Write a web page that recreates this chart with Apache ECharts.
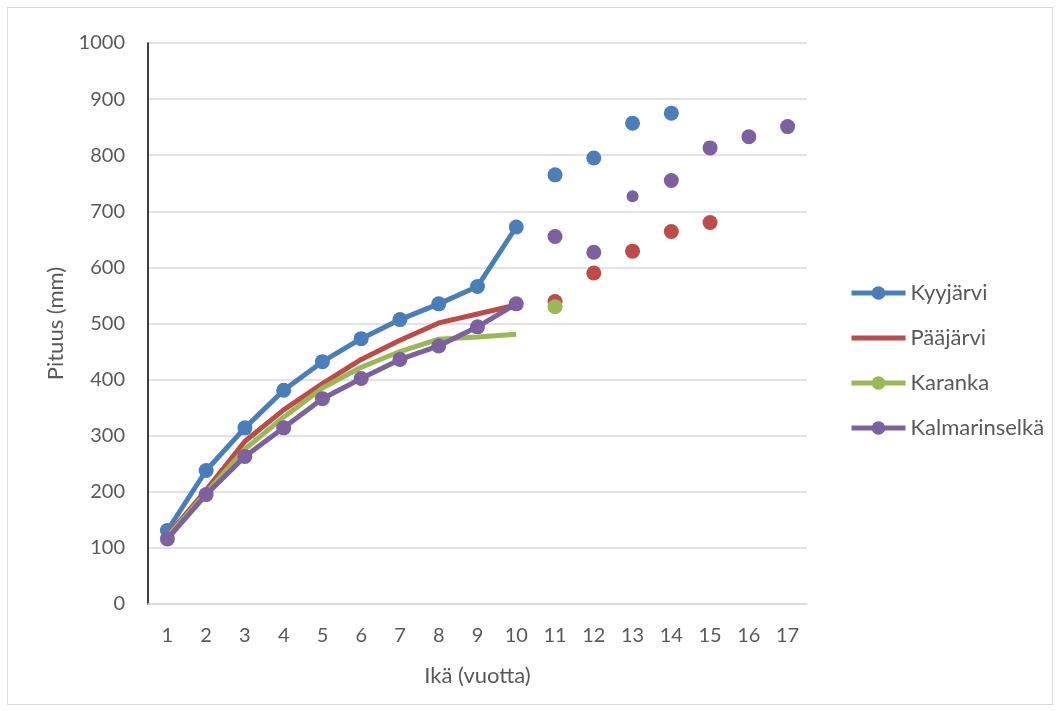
<!DOCTYPE html>
<html>
<head>
<meta charset="utf-8">
<script src="https://cdn.jsdelivr.net/npm/echarts@6/dist/echarts.min.js"></script>
<style>
html,body{margin:0;padding:0;background:#fff;}
#frame{position:absolute;left:7px;top:7px;width:1044px;height:696px;border:1px solid #d9d9d9;}
#chart{position:absolute;left:0;top:0;width:1060px;height:711px;}
</style>
</head>
<body>
<div id="frame"></div>
<div id="chart"></div>
<script>
const ages = ['1','2','3','4','5','6','7','8','9','10','11','12','13','14','15','16','17'];
const seriesNames = ['Kyyjärvi','Pääjärvi','Karanka','Kalmarinselkä'];
const colors = ['#4a7ebb','#be4b48','#98b954','#7d60a0'];
// line part (ages 1-10)
const kyyjarviLine = [131,238,314,381,432,473,507,535,566,672];
const paajarviLine = [122,203,290,346,393,436,470,501,517,533];
const karankaLine = [120,198,276,333,385,422,450,472,476,481];
const kalmarinselkaLine = [116,195,263,314,366,402,436,460,494,535];
// separate points (ages 11-17)
const kyyjarviPoints = [765,795,857,875,null,null,null];
const paajarviPoints = [539,590,629,664,680,null,null];
const karankaPoints = [530,null,null,null,null,null,null];
const kalmarinselkaPoints = [655,627,727,755,813,833,851];
const yTicks = [0,100,200,300,400,500,600,700,800,900,1000];

const fontFam = 'Lato, "Open Sans", sans-serif';
const txt = '#595959';

function pad(line, points){
  const out = [];
  for (let i=0;i<line.length;i++) out.push(line[i]);
  for (let i=0;i<points.length;i++) out.push(null);
  return out;
}
function padPts(line, points, smallIdx){
  const out = [];
  for (let i=0;i<line.length;i++) out.push(null);
  for (let i=0;i<points.length;i++){
    if (points[i]==null) out.push(null);
    else if (smallIdx!=null && i===smallIdx) out.push({value:points[i], symbolSize:12});
    else out.push(points[i]);
  }
  return out;
}

const lineW = 5, symSz = 15;
const series = [];
series.push({name:seriesNames[0], type:'line', data:pad(kyyjarviLine,kyyjarviPoints), symbol:'circle', symbolSize:symSz, showAllSymbol:true,
  lineStyle:{width:lineW,color:colors[0]}, itemStyle:{color:colors[0]}, z:2});
series.push({name:seriesNames[1], type:'line', data:pad(paajarviLine,paajarviPoints), symbol:'none',
  lineStyle:{width:lineW,color:colors[1]}, itemStyle:{color:colors[1]}, z:3});
series.push({name:seriesNames[2], type:'line', symbol:'circle', symbolSize:symSz,
  data:pad(karankaLine,karankaPoints).map(v=>v==null?null:{value:v,symbol:'none'}),
  lineStyle:{width:lineW,color:colors[2]}, itemStyle:{color:colors[2]}, z:4});
series.push({name:seriesNames[3], type:'line', data:pad(kalmarinselkaLine,kalmarinselkaPoints), symbol:'circle', symbolSize:symSz, showAllSymbol:true,
  lineStyle:{width:lineW,color:colors[3]}, itemStyle:{color:colors[3]}, z:5});
const ptsData = [padPts(kyyjarviLine,kyyjarviPoints), padPts(paajarviLine,paajarviPoints), padPts(karankaLine,karankaPoints), padPts(kalmarinselkaLine,kalmarinselkaPoints,2)];
ptsData.forEach((d,i)=>{
  series.push({name:seriesNames[i]+' ', type:'scatter', data:d, symbol:'circle', symbolSize:symSz,
    itemStyle:{color:colors[i], opacity:1}, z:2+i});
});

const chart = echarts.init(document.getElementById('chart'), null, {renderer:'canvas'});
chart.setOption({
  animation:false,
  backgroundColor:'transparent',
  textStyle:{fontFamily:fontFam},
  grid:{left:148, right:253, top:43, bottom:107, containLabel:false},
  legend:{
    data:[
      {name:seriesNames[0]},
      {name:seriesNames[1], itemStyle:{opacity:0}},
      {name:seriesNames[2]},
      {name:seriesNames[3]}
    ],
    orient:'vertical', left:844, top:277,
    itemWidth:54, itemHeight:17, itemGap:23,
    lineStyle:{width:5},
    textStyle:{color:txt, fontSize:22, fontFamily:fontFam}
  },
  xAxis:{
    type:'category', data:ages, boundaryGap:true,
    name:'Ikä (vuotta)', nameLocation:'middle', nameGap:61,
    nameTextStyle:{color:txt, fontSize:22, fontFamily:fontFam},
    axisLine:{lineStyle:{color:'#d9d9d9', width:1.5}},
    axisTick:{show:false},
    axisLabel:{color:txt, fontSize:20, margin:22, fontFamily:fontFam}
  },
  yAxis:{
    type:'value', min:0, max:1000, interval:100,
    name:'Pituus (mm)', nameLocation:'middle', nameGap:81,
    nameTextStyle:{color:txt, fontSize:22, fontFamily:fontFam},
    axisLine:{show:true, lineStyle:{color:'#000', width:1.5}},
    axisTick:{show:false},
    axisLabel:{color:txt, fontSize:20, margin:23, fontFamily:fontFam, formatter:v=>String(v)},
    splitLine:{lineStyle:{color:'#d9d9d9', width:1.5}}
  },
  series:series
});
</script>
</body>
</html>
